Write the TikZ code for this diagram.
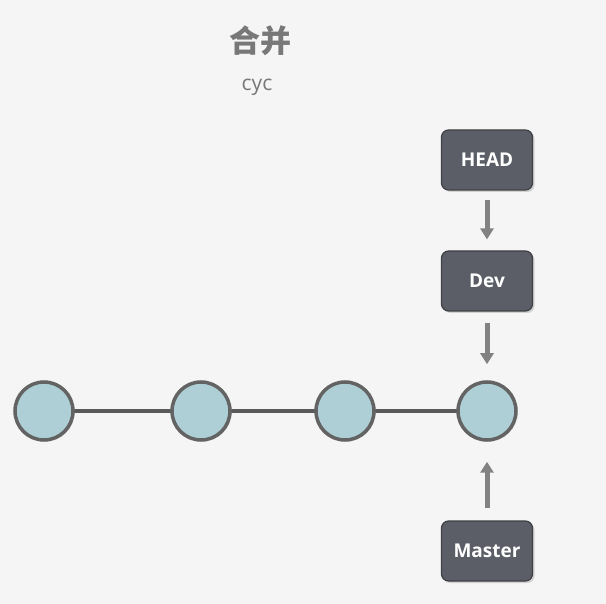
\documentclass[tikz,border=0pt]{standalone}
\usepackage{fontspec}
\setmainfont{Open Sans}
\newfontfamily\cjkfont{Noto Sans CJK SC}
\usepackage{tikz}
\usetikzlibrary{arrows.meta,shadows}

\definecolor{bgcol}{HTML}{F5F5F5}
\definecolor{commitfill}{HTML}{AECFD6}
\definecolor{commitline}{HTML}{636363}
\definecolor{boxfill}{HTML}{5B5E67}
\definecolor{boxline}{HTML}{3E4045}
\definecolor{arrowcol}{HTML}{828282}
\definecolor{titlecol}{HTML}{787878}

\tikzset{
  commit/.style={circle, minimum size=58pt, inner sep=0pt, fill=commitfill,
    draw=commitline, line width=3.5pt,
    drop shadow={shadow xshift=1.5pt, shadow yshift=-1.5pt, opacity=0.25}},
  branch/.style={rectangle, rounded corners=7pt, minimum width=91pt, minimum height=60pt,
    fill=boxfill, draw=boxline, line width=1.2pt, text=white,
    font=\fontsize{19}{22}\selectfont\bfseries,
    drop shadow={shadow xshift=2pt, shadow yshift=-2pt, opacity=0.3}},
  pointer/.style={-{Triangle[width=13pt,length=11pt]}, line width=5pt, draw=arrowcol},
  history/.style={line width=3.5pt, draw=commitline!90!black}
}

\begin{document}
\begin{tikzpicture}[x=1pt,y=-1pt]
  %%%%% START %%%%%

  \fill[bgcol] (0,0) rectangle (606,604);
  \useasboundingbox (0,0) rectangle (606,604);

  \node[text=titlecol, font=\cjkfont\fontsize{31}{34}\selectfont\bfseries] (title) at (260,41) {合并};
  \node[text=titlecol, font=\fontsize{21}{24}\selectfont] (author) at (257,87) {cyc};

  \draw[history] (44,411) -- (487,411);

  \node[commit] (c1) at (44,411) {};
  \node[commit] (c2) at (201,411) {};
  \node[commit] (c3) at (345,411) {};
  \node[commit] (c4) at (487,411) {};

  \node[branch] (head) at (487,160) {HEAD};
  \node[branch] (dev) at (487,281) {Dev};
  \node[branch] (master) at (487,551) {Master};

  \draw[pointer, shorten <=9pt, shorten >=11pt] (head) -- (dev);
  \draw[pointer, shorten <=11pt, shorten >=16pt] (dev) -- (c4);
  \draw[pointer, shorten <=12pt, shorten >=20pt] (master) -- (c4);

  %%%%% END %%%%%
\end{tikzpicture}
\end{document}
